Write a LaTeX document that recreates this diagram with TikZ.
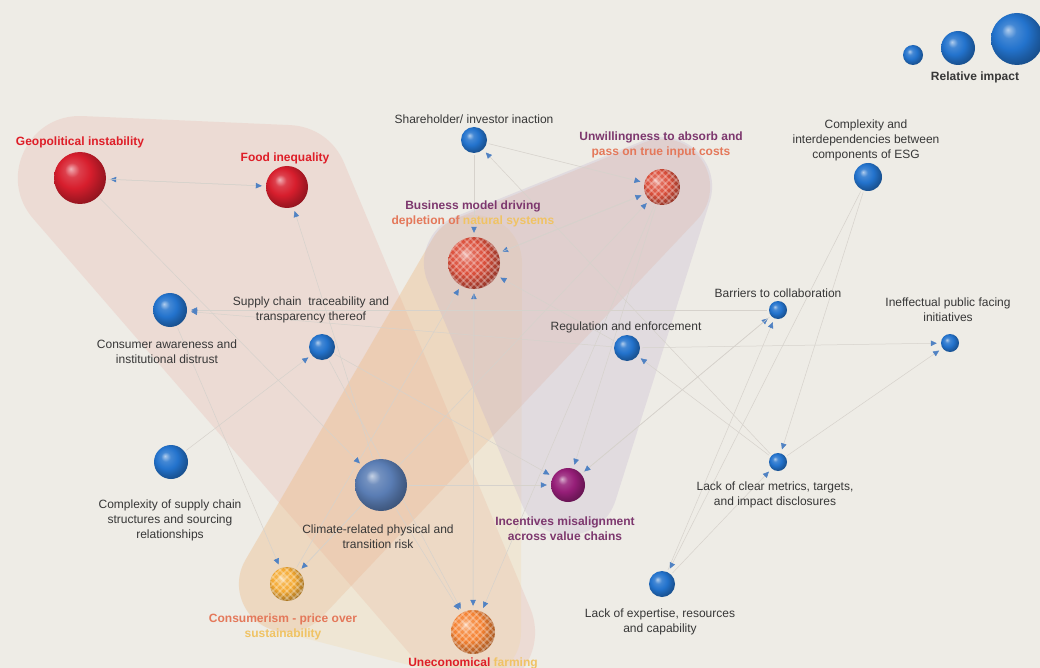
\documentclass[tikz,border=0pt]{standalone}
\usepackage{fontspec}
\setmainfont{Liberation Sans}
\usetikzlibrary{arrows.meta}
\definecolor{bgc}{RGB}{238,236,230}
\definecolor{hullred}{RGB}{232,160,150}
\definecolor{hullorange}{RGB}{232,160,115}
\definecolor{hullyellow}{RGB}{245,210,140}
\definecolor{hullpurple}{RGB}{190,172,205}
\definecolor{edgec}{RGB}{214,210,204}
\definecolor{arrb}{RGB}{80,130,195}
\definecolor{sblue}{RGB}{35,115,205}
\definecolor{sred}{RGB}{215,30,45}
\definecolor{sclim}{RGB}{90,125,180}
\definecolor{spurp}{RGB}{150,30,120}
\definecolor{sbm}{RGB}{220,80,60}
\definecolor{scmsm}{RGB}{245,170,50}
\definecolor{sunec}{RGB}{245,130,50}
\definecolor{tdark}{RGB}{55,55,55}
\definecolor{tred}{RGB}{222,30,40}
\definecolor{tpurp}{RGB}{125,55,110}
\definecolor{torange}{RGB}{228,120,90}
\definecolor{tyellow}{RGB}{240,195,100}
\colorlet{sphcol}{sblue}
\pgfdeclareradialshading[sphcol]{glossy}{\pgfpoint{-9bp}{9bp}}{%
  color(0bp)=(sphcol!35!white);
  color(7bp)=(sphcol!85!white);
  color(16bp)=(sphcol);
  color(24bp)=(sphcol!80!black);
  color(34bp)=(sphcol!58!black);
  color(50bp)=(sphcol!45!black)}
\pgfdeclarelayer{back}
\pgfdeclarelayer{hulls}
\pgfdeclarelayer{edges}
\pgfsetlayers{back,hulls,edges,main}
\newcommand\chkball[2]{%
  \begin{scope}
    \clip (#1.center) circle (#2);
    \begin{scope}[shift={(#1.center)}]
      \foreach \k in {-10,...,10} {
        \draw[chkline] (\k*7-40,-40) -- ++(80,80);
        \draw[chkline] (\k*7+40,-40) -- ++(-80,80);
      }
    \end{scope}
  \end{scope}}
\begin{document}
\begin{tikzpicture}[x=1pt,y=-1pt,
  sph/.style={circle, inner sep=0pt, draw=none, shading=glossy, /utils/exec={\colorlet{sphcol}{#1}}},
  blueb/.style={sph=sblue},
  chkline/.style={white, opacity=.28, line width=1.6pt},
  lbl/.style={font=\fontsize{12}{15}\selectfont, text=tdark, align=center, inner sep=0pt},
  lblb/.style={lbl, font=\fontsize{12}{15}\selectfont\bfseries},
  conn/.style={draw=edgec, line width=.5pt, shorten >=4pt, shorten <=2pt,
    -{Triangle[length=6pt,width=5.5pt,color=arrb]}},
  hull/.style={line join=round, line cap=round}
]
\begin{pgfonlayer}{back}
  \fill[bgc] (0,0) rectangle (1040,668);
\end{pgfonlayer}
\clip (0,0) rectangle (1040,668);

% legend
\node[blueb, minimum size=20pt] (leg1) at (913,55) {};
\node[blueb, minimum size=34pt] (leg2) at (958,48) {};
\node[blueb, minimum size=52pt] (leg3) at (1017,39) {};
\node[lblb] (legt) at (975,77) {Relative impact};

% spheres
\node[sph=sred, minimum size=52pt] (geo) at (80,178) {};
\node[sph=sred, minimum size=42pt] (food) at (287,187) {};
\node[blueb, minimum size=26pt] (share) at (474,140) {};
\node[sph=sbm, minimum size=36pt] (unw) at (662,187) {};
\node[blueb, minimum size=28pt] (esg) at (868,177) {};
\node[sph=sbm, minimum size=52pt] (bm) at (474,263) {};
\node[blueb, minimum size=34pt] (cons) at (170,310) {};
\node[blueb, minimum size=26pt] (supp) at (322,347) {};
\node[blueb, minimum size=26pt] (reg) at (627,348) {};
\node[blueb, minimum size=18pt] (barr) at (778,310) {};
\node[blueb, minimum size=18pt] (ineff) at (950,343) {};
\node[blueb, minimum size=34pt] (cplx) at (171,462) {};
\node[sph=sclim, minimum size=52pt] (clim) at (381,485) {};
\node[sph=spurp, minimum size=34pt] (inc) at (568,485) {};
\node[blueb, minimum size=18pt] (lmet) at (778,462) {};
\node[sph=scmsm, minimum size=34pt] (cmsm) at (287,584) {};
\node[sph=sunec, minimum size=44pt] (unec) at (473,632) {};
\node[blueb, minimum size=26pt] (lexp) at (662,584) {};

\chkball{bm}{26}
\chkball{unw}{18}
\chkball{cmsm}{17}
\chkball{unec}{22}

% labels
\node[lblb, text=tred] (geoL) at (80,142) {Geopolitical instability};
\node[lblb, text=tred] (foodL) at (285,158) {Food inequality};
\node[lbl] (shareL) at (474,119) {Shareholder/ investor inaction};
\node[lblb, text=tpurp] (unwL) at (661,145) {Unwillingness to absorb and\\\textcolor{torange}{pass on true input costs}};
\node[lbl] (esgL) at (866,140) {Complexity and\\interdependencies between\\components of ESG};
\node[lblb, text=tpurp] (bmL) at (473,214) {Business model driving\\\textcolor{torange}{depletion of }\textcolor{tyellow}{natural systems}};
\node[lbl] (consL) at (167,352) {Consumer awareness and\\institutional distrust};
\node[lbl] (suppL) at (311,310) {Supply chain\ \ traceability and\\transparency thereof};
\node[lbl] (regL) at (626,327) {Regulation and enforcement};
\node[lbl] (barrL) at (778,293) {Barriers to collaboration};
\node[lbl] (ineffL) at (948,310) {Ineffectual public facing\\initiatives};
\node[lbl] (cplxL) at (170,520) {Complexity of supply chain\\structures and sourcing\\relationships};
\node[lbl] (climL) at (378,537) {Climate-related physical and\\transition risk};
\node[lblb, text=tpurp] (incL) at (565,529) {Incentives misalignment\\across value chains};
\node[lbl] (lmetL) at (775,495) {Lack of clear metrics, targets,\\and impact disclosures};
\node[lblb, text=torange] (cmsmL) at (283,627) {Consumerism - price over\\\textcolor{tyellow}{sustainability}};
\node[lblb, text=tred] (unecL) at (473,663) {Uneconomical \textcolor{tyellow}{farming}};
\node[lbl] (lexpL) at (660,622) {Lack of expertise, resources\\and capability};

% hulls
\begin{pgfonlayer}{hulls}
  \begin{scope}[transparency group, opacity=.22]
    \filldraw[hull, hullred, line width=124pt] (geo.center) -- (food.center) -- (unec.center) -- cycle;
  \end{scope}
  \begin{scope}[transparency group, opacity=.2]
    \filldraw[hull, hullyellow, line width=96pt] (bm.center) -- (cmsm.center) -- (unec.center) -- cycle;
  \end{scope}
  \begin{scope}[transparency group, opacity=.2]
    \filldraw[hull, hullorange, line width=96pt] (bm.center) -- (unw.center) -- (cmsm.center) -- cycle;
  \end{scope}
  \begin{scope}[transparency group, opacity=.26]
    \filldraw[hull, hullpurple, line width=100pt] (bm.center) -- (unw.center) -- (inc.center) -- cycle;
  \end{scope}
\end{pgfonlayer}

% connectors
\begin{pgfonlayer}{edges}
  \draw[conn] (food) -- (geo);
  \draw[conn] (geo) -- (food);
  \draw[conn] (clim) -- (food);
  \draw[conn] (barr) -- (cons);
  \draw[conn] (reg) -- (cons);
  \draw[conn] (cplx) -- (supp);
  \draw[conn] (lmet) -- (share);
  \draw[conn] (share) -- (bm);
  \draw[conn] (unw) -- (bm);
  \draw[conn] (reg) -- (bm);
  \draw[conn] (unec) -- (bm);
  \draw[conn] (cmsm) -- (bm);
  \draw[conn] (bm) -- (unw);
  \draw[conn] (share) -- (unw);
  \draw[conn] (cmsm) -- (unw);
  \draw[conn] (lmet) -- (reg);
  \draw[conn] (inc) -- (barr);
  \draw[conn] (lexp) -- (barr);
  \draw[conn] (reg) -- (ineff);
  \draw[conn] (lmet) -- (ineff);
  \draw[conn] (esg) -- (lmet);
  \draw[conn] (lexp) -- (lmet);
  \draw[conn] (esg) -- (lexp);
  \draw[conn] (supp) -- (inc);
  \draw[conn] (clim) -- (inc);
  \draw[conn] (unw) -- (inc);
  \draw[conn] (barr) -- (inc);
  \draw[conn] (geo) -- (clim);
  \draw[conn] (cons) -- (cmsm);
  \draw[conn] (clim) -- (cmsm);
  \draw[conn] (clim) -- (unec);
  \draw[conn] (supp) -- (unec);
  \draw[conn] (bm) -- (unec);
  \draw[conn] (unw) -- (unec);
\end{pgfonlayer}
\end{tikzpicture}
\end{document}
